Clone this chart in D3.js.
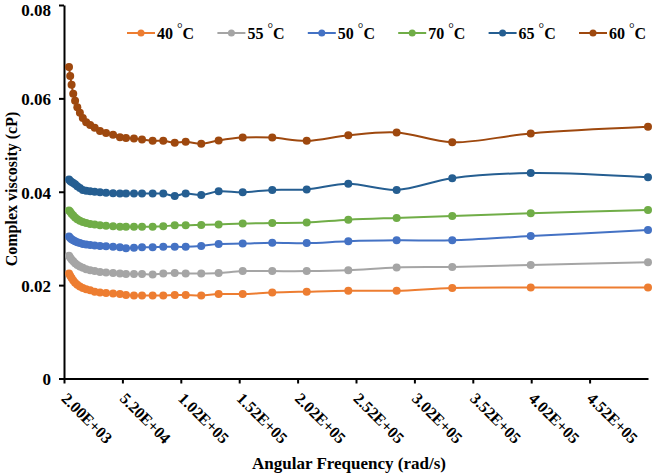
<!DOCTYPE html>
<html>
<head>
<meta charset="utf-8">
<script src="https://cdn.jsdelivr.net/npm/d3@7"></script>
<style>
  body { margin: 0; background: #fff; }
  text { font-family: "Liberation Serif", "Times New Roman", serif; font-weight: bold; }
</style>
</head>
<body>
<div id="chart"></div>
<script>
// angular frequency (rad/s)
const freq = [
  6300, 7300, 8500, 9900, 11500, 13400, 15600, 18100, 21000, 24400, 28300, 32800,
  38000, 44000, 49900, 55100, 61900, 68800, 77900, 87000, 96800, 106200, 119500,
  134400, 155000, 180300, 209800, 245400, 286800, 334400, 401600, 502000
];

// complex viscosity (cP)
const v40 = [
  0.0225, 0.0220, 0.0215, 0.0210, 0.0205, 0.0201, 0.0197, 0.0194, 0.0191, 0.0189, 0.0186, 0.0184,
  0.0183, 0.0182, 0.0181, 0.0179, 0.0178, 0.0178, 0.0178, 0.0178, 0.0179, 0.0179, 0.0178,
  0.0181, 0.0181, 0.0184, 0.0186, 0.0188, 0.0188, 0.0194, 0.0195, 0.0195
];
const v55 = [
  0.0263, 0.0259, 0.0255, 0.0251, 0.0247, 0.0243, 0.0240, 0.0237, 0.0234, 0.0232, 0.0230, 0.0228,
  0.0227, 0.0226, 0.0225, 0.0224, 0.0224, 0.0224, 0.0223, 0.0225, 0.0226, 0.0225, 0.0225,
  0.0226, 0.0230, 0.0230, 0.0230, 0.0232, 0.0238, 0.0239, 0.0243, 0.0249
];
const v50 = [
  0.0304, 0.0301, 0.0298, 0.0296, 0.0294, 0.0292, 0.0290, 0.0288, 0.0287, 0.0286, 0.0285, 0.0284,
  0.0283, 0.0282, 0.0281, 0.0279, 0.0280, 0.0281, 0.0281, 0.0282, 0.0282, 0.0282, 0.0284,
  0.0288, 0.0289, 0.0291, 0.0290, 0.0294, 0.0296, 0.0296, 0.0305, 0.0318
];
const v70 = [
  0.0360, 0.0357, 0.0353, 0.0349, 0.0345, 0.0341, 0.0338, 0.0335, 0.0333, 0.0331, 0.0330, 0.0328,
  0.0327, 0.0326, 0.0325, 0.0325, 0.0325, 0.0325, 0.0325, 0.0326, 0.0328, 0.0328, 0.0329,
  0.0330, 0.0332, 0.0333, 0.0334, 0.0340, 0.0344, 0.0348, 0.0354, 0.0361
];
const v65 = [
  0.0426, 0.0423, 0.0421, 0.0419, 0.0416, 0.0412, 0.0408, 0.0404, 0.0402, 0.0401, 0.0400, 0.0399,
  0.0398, 0.0397, 0.0396, 0.0396, 0.0396, 0.0396, 0.0396, 0.0396, 0.0391, 0.0396, 0.0393,
  0.0401, 0.0399, 0.0404, 0.0405, 0.0417, 0.0404, 0.0429, 0.0440, 0.0431
];
const v60 = [
  0.0667, 0.0648, 0.0629, 0.0610, 0.0595, 0.0581, 0.0569, 0.0558, 0.0549, 0.0543, 0.0537, 0.0530,
  0.0526, 0.0522, 0.0517, 0.0515, 0.0514, 0.0512, 0.0509, 0.0509, 0.0505, 0.0507, 0.0503,
  0.0510, 0.0516, 0.0516, 0.0509, 0.0521, 0.0527, 0.0506, 0.0525, 0.0539
];

const seriesNames = ["40", "55", "50", "70", "65", "60"];
const seriesValues = [v40, v55, v50, v70, v65, v60];
const seriesColors = ["#ED7D31", "#A5A5A5", "#4472C4", "#70AD47", "#255E91", "#9E480E"];

const xTicks = [2000, 52000, 102000, 152000, 202000, 252000, 302000, 352000, 402000, 452000];
const yTicks = [0, 0.02, 0.04, 0.06, 0.08];

const WIDTH = 653, HEIGHT = 474;

var svg = d3
  .select("#chart")
  .append("svg")
  .attr("width", WIDTH)
  .attr("height", HEIGHT);

var x = d3.scaleLinear().domain([2000, 502000]).range([64, 648]);
var y = d3.scaleLinear().domain([0, 0.08]).range([378.5, 5]);

// excel style 2.00E+03
var sci = function (d) {
  var s = d3.format(".2e")(d);
  var parts = s.split("e");
  var exp = +parts[1];
  return parts[0] + "E" + (exp < 0 ? "-" : "+") + String(Math.abs(exp)).padStart(2, "0");
};

/* ------- AXES -------*/
var yAxis = svg
  .append("g")
  .attr("transform", "translate(64,0)")
  .call(
    d3.axisLeft(y).tickValues(yTicks).tickSize(5).tickSizeOuter(0).tickPadding(8)
      .tickFormat(function (d) { return d === 0 ? "0" : d3.format(".2f")(d); })
  );

yAxis.select(".domain").attr("stroke", "#000").attr("stroke-width", 2);
yAxis.selectAll(".tick line").attr("stroke", "#000").attr("stroke-width", 2);
yAxis.selectAll(".tick text")
  .attr("fill", "#000")
  // top label sits against the edge, nudge it down a bit
  .attr("dy", function (d) { return d === 0.08 ? "0.6em" : "0.38em"; })
  .style("font-size", "17px")
  .style("font-family", "'Liberation Serif', serif")
  .style("font-weight", "bold");

var xAxis = svg
  .append("g")
  .attr("transform", "translate(0," + y(0) + ")")
  .call(d3.axisBottom(x).tickValues(xTicks).tickSize(5).tickSizeOuter(0).tickFormat(sci));

xAxis.select(".domain").attr("stroke", "#000").attr("stroke-width", 2);
xAxis.selectAll(".tick line").attr("stroke", "#000").attr("stroke-width", 2);
xAxis.selectAll(".tick text")
  .attr("fill", "#000")
  .attr("text-anchor", "start")
  .attr("transform", "translate(-4,21) rotate(45)")
  .attr("y", 0)
  .attr("dy", 0)
  .style("font-size", "16px")
  .style("font-family", "'Liberation Serif', serif")
  .style("font-weight", "bold");

// axis titles
svg.append("text")
  .attr("x", 349)
  .attr("y", 469)
  .attr("text-anchor", "middle")
  .style("font-size", "17px")
  .text("Angular Frequency (rad/s)");

svg.append("text")
  .attr("transform", "translate(17,189) rotate(-90)")
  .attr("text-anchor", "middle")
  .style("font-size", "16px")
  .text("Complex viscosity (cP)");

/* ------- LINES & POINTS -------*/
var line = d3
  .line()
  .x(function (d, i) { return x(freq[i]); })
  .y(function (d) { return y(d); })
  .curve(d3.curveCatmullRom.alpha(0.5));

var groups = svg
  .append("g")
  .selectAll("g.series")
  .data(seriesValues)
  .enter()
  .append("g")
  .attr("class", "series");

groups
  .append("path")
  .attr("fill", "none")
  .attr("stroke", function (d, i) { return seriesColors[i]; })
  .attr("stroke-width", 2)
  .attr("d", line);

groups.each(function (vals, si) {
  d3.select(this)
    .selectAll("circle")
    .data(vals)
    .enter()
    .append("circle")
    .attr("cx", function (d, i) { return x(freq[i]); })
    .attr("cy", function (d) { return y(d); })
    .attr("r", 4)
    .attr("fill", seriesColors[si]);
});

/* ------- LEGEND -------*/
var legend = svg
  .append("g")
  .selectAll("g.legend")
  .data(seriesNames)
  .enter()
  .append("g")
  .attr("class", "legend")
  .attr("transform", function (d, i) { return "translate(" + (127 + i * 90.4) + ",33)"; });

legend.append("line")
  .attr("x1", 0).attr("x2", 28)
  .attr("stroke", function (d, i) { return seriesColors[i]; })
  .attr("stroke-width", 2);

legend.append("circle")
  .attr("cx", 14)
  .attr("r", 3.5)
  .attr("fill", function (d, i) { return seriesColors[i]; });

var lt = legend.append("text")
  .attr("x", 30)
  .attr("y", 5.5)
  .style("font-size", "16px");
lt.append("tspan").text(function (d) { return d + " "; });
lt.append("tspan").attr("dy", -6).style("font-size", "14px").style("font-weight", "normal").text("°");
lt.append("tspan").attr("dy", 6).text("C");
</script>
</body>
</html>
